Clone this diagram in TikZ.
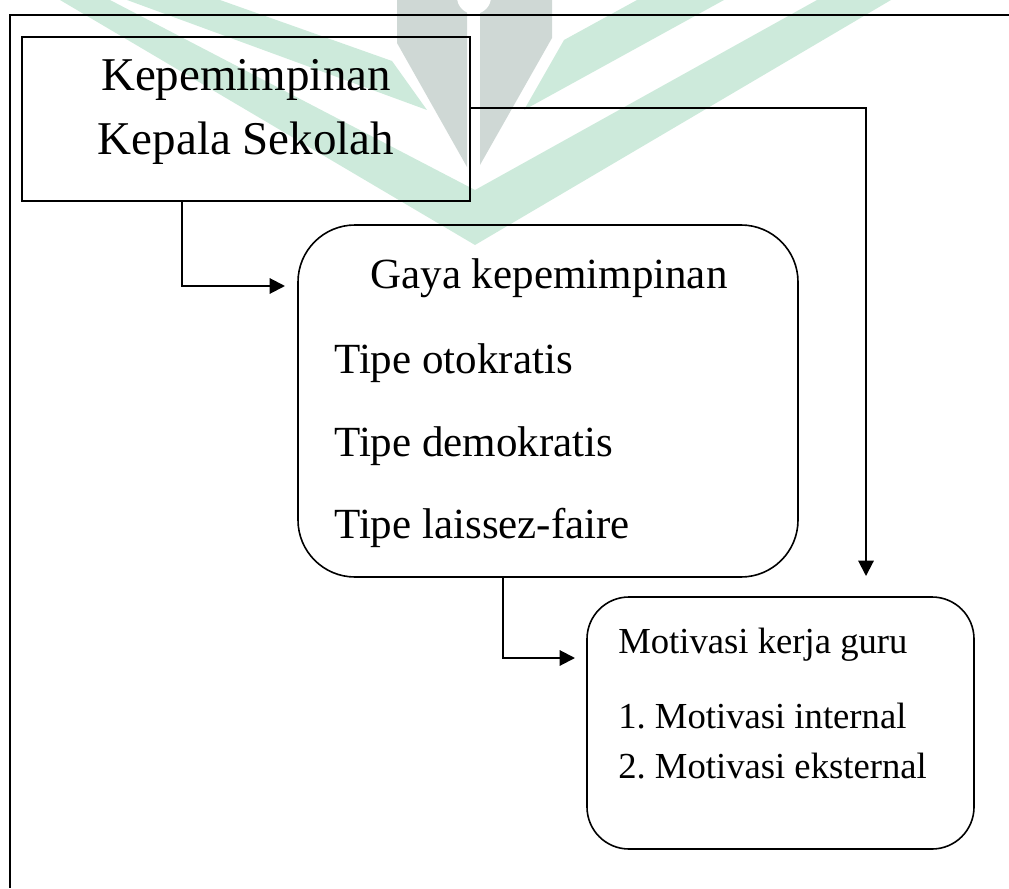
\documentclass[tikz,border=0pt]{standalone}
\usepackage{fontspec}
\setmainfont{Liberation Serif}
\usetikzlibrary{positioning,arrows.meta,calc}
\definecolor{wmG}{HTML}{CDEADB}
\definecolor{wmK}{HTML}{CFD8D5}
\frenchspacing

\begin{document}
\begin{tikzpicture}[
  x=0.75pt, y=-0.75pt,
  box/.style={draw, line width=1.2pt, inner sep=0pt, outer sep=0pt},
  rbox/.style={box, rounded corners=#1},
  tA/.style={inner sep=0pt, anchor=base, font=\fontsize{35.25}{42}\selectfont},
  tB/.style={inner sep=0pt, anchor=base west, font=\fontsize{32.25}{38}\selectfont},
  tC/.style={inner sep=0pt, anchor=base west, font=\fontsize{27.5}{33}\selectfont},
  arr/.style={-{Triangle[length=11.5pt, width=11.5pt]}, line width=1.5pt}
]
\useasboundingbox (0,0) rectangle (1009,888);
% watermark
\fill[wmG] (60,0) -- (110,0) -- (475,190) -- (817,0) -- (891,0) -- (475,245) -- cycle;
\fill[wmG] (127,0) -- (220,0) -- (392,61) -- (427,110) -- cycle;
\fill[wmG] (637,0) -- (724,0) -- (524,110) -- (564,40) -- cycle;
\fill[wmK] (397,0) -- (467,0) -- (467,167) -- (397,43) -- cycle;
\fill[wmK] (480,0) -- (552,0) -- (552,38) -- (480,165) -- cycle;
\fill[white] (474,-3) circle[radius=17];
% page frame
\draw[line width=1.6pt] (1009,15) -- (10,15) -- (10,888);
% boxes
\node[box, minimum width=336pt, minimum height=123pt] (kep) at (246,119) {};
\node[rbox=42.75pt, minimum width=375pt, minimum height=264pt] (gaya) at (548,401) {};
\node[rbox=31.5pt, minimum width=290.25pt, minimum height=189pt] (motiv) at (780.5,723) {};
% texts
\node[tA] (kep1) at ($(kep.north)+(0,54)$) {Kepemimpinan};
\node[tA] (kep2) at ($(kep.north)+(0,118)$) {Kepala Sekolah};
\node[tA, font=\fontsize{32.25}{38}\selectfont] (gaya0) at ($(gaya.north)+(1,63)$) {Gaya kepemimpinan};
\node[tB] (gaya1) at ($(gaya.north west)+(36,148)$) {Tipe otokratis};
\node[tB] (gaya2) at ($(gaya.north west)+(36,231)$) {Tipe demokratis};
\node[tB] (gaya3) at ($(gaya.north west)+(36,313)$) {Tipe laissez-faire};
\node[tC] (mot0) at ($(motiv.north west)+(31,56)$) {Motivasi kerja guru};
\node[tC] (mot1) at ($(motiv.north west)+(31,131)$) {1. Motivasi internal};
\node[tC] (mot2) at ($(motiv.north west)+(31,181)$) {2. Motivasi eksternal};
% connectors
\draw[arr] ($(kep.south west)+(160,0)$) |- ($(gaya.north west)+(-13,61)$);
\draw[arr] ($(kep.north east)+(0,71)$) -| ($(motiv.north west)+(279,-21)$);
\draw[arr] ($(gaya.south west)+(205,0)$) |- ($(motiv.north west)+(-12,61)$);
\end{tikzpicture}
\end{document}
